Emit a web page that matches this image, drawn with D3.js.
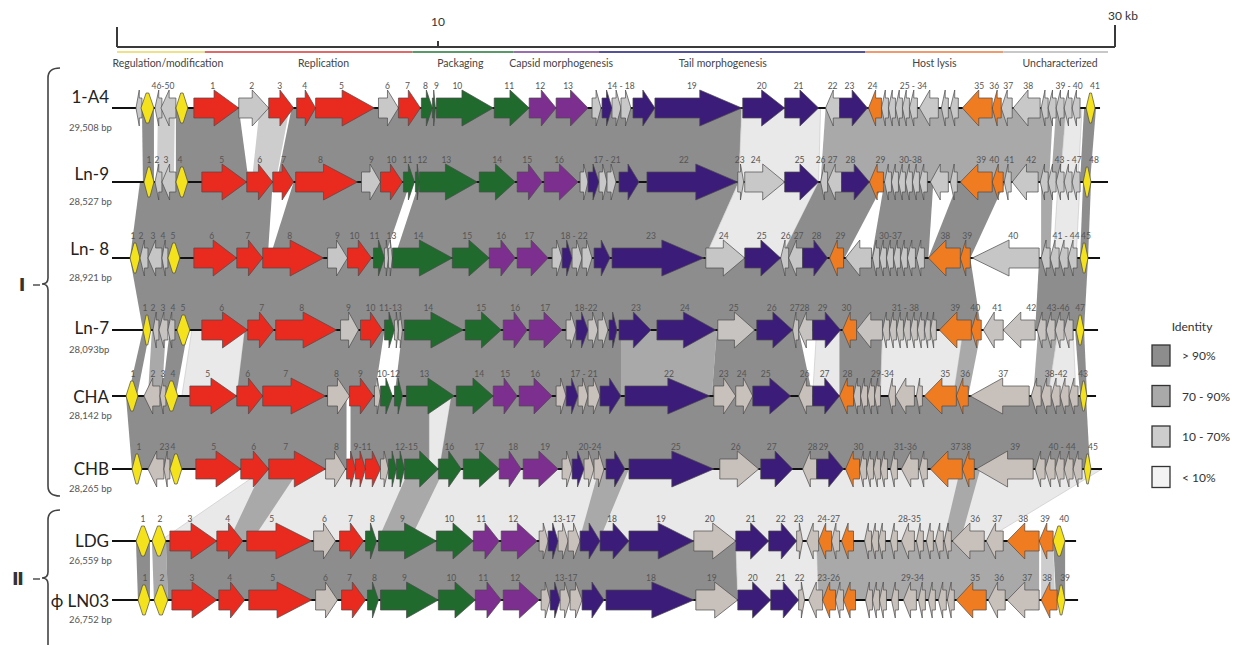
<!DOCTYPE html>
<html lang="en">
<head>
<meta charset="utf-8">
<title>Genome comparison</title>
<script src="https://cdn.jsdelivr.net/npm/d3@7/dist/d3.min.js"></script>
<style>
  body { margin: 0; background: #fff; }
  text { font-family: Lato, "Open Sans", "DejaVu Sans", sans-serif; }
</style>
</head>
<body>
<script>
// ---- data (positions in kb) ----
var genomeNames = ["1-A4", "Ln-9", "Ln- 8", "Ln-7", "CHA", "CHB", "LDG", "\u03D5 LN03"];
var genomeSizes = ["29,508 bp", "28,527  bp", "28,921 bp", "28,093bp", "28,142 bp", "28,265 bp", "26,559 bp", "26,752 bp"];
var genomeEnds = [29.55, 29.79, 29.55, 29.49, 29.43, 29.61, 28.83, 28.89];

var rulerTicks = [0, 10, 30];
var rulerLabels = ["", "10", "30 kb"];

var categoryNames = ["Regulation/modification", "Replication", "Packaging", "Capsid morphogenesis", "Tail morphogenesis", "Host lysis", "Uncharacterized"];
var categoryStart = [0, 2.64, 8.88, 11.91, 14.49, 22.50, 26.64];
var categoryEnd = [2.64, 8.88, 11.91, 14.49, 22.50, 26.64, 29.79];
var categoryLabelAt = [1.53, 6.21, 10.32, 13.35, 18.21, 24.57, 28.35];

var identityLabels = ["> 90%", "70 - 90%", "10 - 70%", "< 10%"];

// genes: [start, end, strand, category]
var genes1A4 = [
[0.57,0.75,-1,"u"],[0.72,1.11,0,"y"],[1.14,1.35,-1,"u"],[1.32,1.77,-1,"u"],[1.77,2.13,0,"y"],
[2.31,3.66,1,"r"],[3.66,4.56,1,"u"],[4.56,5.31,1,"r"],[5.40,5.97,1,"r"],[5.97,7.74,1,"r"],
[7.86,8.46,1,"u"],[8.46,9.12,1,"r"],[9.15,9.48,1,"g"],[9.48,9.57,1,"g"],[9.60,11.31,1,"g"],
[11.34,12.39,1,"g"],[12.39,13.20,1,"p"],[13.20,14.16,1,"p"],[14.28,14.55,1,"u"],[14.58,14.88,1,"b"],
[14.88,15.15,1,"u"],[15.15,15.45,1,"u"],[15.51,16.17,1,"b"],[16.17,18.78,1,"b"],[18.81,20.07,1,"b"],
[20.07,21.09,1,"b"],[21.30,21.72,-1,"u"],[21.72,22.56,1,"b"],[22.59,22.98,-1,"o"],
[22.98,23.19,-1,"u"],[23.19,23.40,-1,"u"],[23.40,23.61,-1,"u"],[23.61,23.82,-1,"u"],[23.82,24.06,-1,"u"],
[24.12,24.69,-1,"u"],[24.78,24.99,-1,"u"],[25.05,25.29,-1,"u"],
[25.41,26.31,-1,"o"],[26.31,26.58,-1,"o"],[26.58,26.91,-1,"u"],[26.94,27.75,-1,"u"],
[27.78,27.99,-1,"u"],[27.99,28.23,-1,"u"],[28.23,28.47,-1,"u"],[28.47,28.71,-1,"u"],[28.71,28.95,-1,"u"],
[29.13,29.40,0,"y"]
];
var genesLn9 = [
[0.81,1.11,0,"y"],[1.14,1.35,-1,"u"],[1.35,1.77,-1,"u"],[1.77,2.13,0,"y"],
[2.55,3.90,1,"r"],[3.90,4.68,1,"r"],[4.68,5.31,1,"r"],[5.37,7.23,1,"r"],[7.35,7.92,1,"u"],[7.92,8.58,1,"r"],
[8.61,8.94,1,"g"],[8.97,9.09,1,"g"],[9.09,10.83,1,"g"],[10.89,11.97,1,"g"],[12.03,12.78,1,"p"],[12.84,13.86,1,"p"],
[13.92,14.16,1,"u"],[14.16,14.49,1,"b"],[14.49,14.73,1,"u"],[14.73,15.00,1,"u"],[15.09,15.69,1,"b"],
[15.93,18.66,1,"b"],[18.66,18.84,1,"u"],[18.87,20.07,1,"u"],[20.07,21.09,1,"b"],[21.15,21.36,-1,"u"],[21.36,21.78,-1,"u"],
[21.78,22.62,1,"b"],[22.62,23.04,-1,"o"],
[23.07,23.28,-1,"u"],[23.28,23.49,-1,"u"],[23.49,23.70,-1,"u"],[23.70,23.91,-1,"u"],[23.91,24.12,-1,"u"],[24.12,24.36,-1,"u"],
[24.45,24.99,-1,"u"],[25.05,25.26,-1,"u"],
[25.35,26.31,-1,"o"],[26.31,26.64,-1,"o"],[26.67,26.88,-1,"u"],[26.91,27.69,-1,"u"],
[27.75,27.99,-1,"u"],[27.99,28.23,-1,"u"],[28.23,28.47,-1,"u"],[28.47,28.71,-1,"u"],[28.71,28.95,-1,"u"],
[29.04,29.28,0,"y"]
];
var genesLn8 = [
[0.39,0.69,0,"y"],[0.69,0.93,-1,"u"],[0.93,1.35,-1,"u"],[1.35,1.53,-1,"u"],[1.53,1.89,0,"y"],
[2.31,3.60,1,"r"],[3.60,4.38,1,"r"],[4.38,6.21,1,"r"],[6.33,6.93,1,"u"],[6.93,7.65,1,"r"],
[7.71,8.04,1,"g"],[8.04,8.16,1,"u"],[8.16,8.28,1,"u"],[8.28,10.08,1,"g"],[10.08,11.19,1,"g"],
[11.19,11.97,1,"p"],[12.03,12.96,1,"p"],
[13.08,13.38,1,"u"],[13.38,13.68,1,"b"],[13.68,13.98,1,"u"],[13.98,14.28,1,"u"],[14.34,14.82,1,"b"],
[14.88,17.64,1,"b"],[17.70,18.87,1,"u"],[18.87,19.95,1,"b"],[19.95,20.19,-1,"u"],[20.19,20.61,-1,"u"],
[20.61,21.36,1,"b"],[21.42,21.84,-1,"o"],[21.90,22.68,-1,"u"],
[22.71,22.92,-1,"u"],[22.92,23.13,-1,"u"],[23.13,23.34,-1,"u"],[23.34,23.55,-1,"u"],[23.55,23.76,-1,"u"],
[23.76,24.00,-1,"u"],[24.03,24.27,-1,"u"],
[24.39,25.35,-1,"o"],[25.35,25.65,-1,"o"],[25.71,27.72,-1,"u"],
[27.78,28.05,-1,"u"],[28.05,28.32,-1,"u"],[28.32,28.59,-1,"u"],[28.59,28.86,-1,"u"],
[28.95,29.19,0,"y"]
];
var genesLn7 = [
[0.78,1.02,0,"y"],[1.08,1.26,-1,"u"],[1.26,1.53,-1,"u"],[1.53,1.74,-1,"u"],[1.80,2.19,0,"y"],
[2.55,3.93,1,"r"],[3.93,4.71,1,"r"],[4.77,6.60,1,"r"],[6.72,7.26,1,"u"],[7.32,7.98,1,"r"],
[8.04,8.34,1,"g"],[8.34,8.46,1,"u"],[8.46,8.58,1,"u"],[8.64,10.41,1,"g"],[10.47,11.55,1,"g"],
[11.61,12.33,1,"p"],[12.39,13.38,1,"p"],
[13.50,13.80,1,"u"],[13.80,14.16,1,"b"],[14.16,14.46,1,"u"],[14.46,14.76,1,"u"],[14.79,15.03,1,"b"],
[15.09,16.05,1,"b"],[16.23,18.00,1,"b"],[18.06,19.17,1,"u"],[19.23,20.31,1,"b"],[20.31,20.49,-1,"u"],[20.49,20.91,-1,"u"],
[20.91,21.75,1,"b"],[21.81,22.23,-1,"o"],[22.23,23.01,-1,"u"],
[23.01,23.22,-1,"u"],[23.22,23.43,-1,"u"],[23.43,23.64,-1,"u"],[23.64,23.85,-1,"u"],[23.85,24.06,-1,"u"],
[24.06,24.27,-1,"u"],[24.27,24.45,-1,"u"],[24.45,24.63,-1,"u"],
[24.72,25.68,-1,"o"],[25.68,25.98,-1,"o"],[26.04,26.64,-1,"u"],[26.64,27.60,-1,"u"],
[27.66,27.93,-1,"u"],[27.93,28.20,-1,"u"],[28.20,28.47,-1,"u"],[28.47,28.74,-1,"u"],
[28.83,29.07,0,"y"]
];
var genesCHA = [
[0.27,0.63,0,"y"],[0.81,1.29,-1,"u"],[1.29,1.47,-1,"u"],[1.44,1.83,0,"y"],
[2.19,3.60,1,"r"],[3.60,4.38,1,"r"],[4.38,6.27,1,"r"],[6.33,6.99,1,"u"],[6.99,7.71,1,"r"],
[7.74,7.92,1,"u"],[7.92,8.28,1,"g"],[8.34,8.58,1,"g"],[8.70,10.14,1,"g"],[10.20,11.31,1,"g"],
[11.31,12.03,1,"p"],[12.09,13.08,1,"p"],
[13.20,13.50,1,"u"],[13.50,13.86,1,"b"],[13.86,14.16,1,"u"],[14.16,14.52,1,"u"],[14.52,15.15,1,"b"],
[15.27,17.82,1,"b"],[17.94,18.60,1,"u"],[18.60,19.11,1,"u"],[19.11,20.25,1,"b"],[20.49,20.91,-1,"u"],
[20.91,21.72,1,"b"],[21.72,22.14,-1,"o"],
[22.14,22.35,-1,"u"],[22.35,22.56,-1,"u"],[22.56,22.77,-1,"u"],[22.77,22.95,-1,"u"],[23.19,23.40,-1,"u"],
[23.40,23.97,-1,"u"],[24.03,24.21,-1,"u"],
[24.27,25.23,-1,"o"],[25.23,25.59,-1,"o"],[25.65,27.42,-1,"u"],
[27.48,27.78,-1,"u"],[27.78,28.08,-1,"u"],[28.08,28.35,-1,"u"],[28.35,28.62,-1,"u"],[28.62,28.89,-1,"u"],
[28.95,29.16,0,"y"]
];
var genesCHB = [
[0.45,0.75,0,"y"],[0.93,1.41,-1,"u"],[1.41,1.59,-1,"u"],[1.59,1.95,0,"y"],
[2.37,3.72,1,"r"],[3.72,4.56,1,"r"],[4.56,6.27,1,"r"],[6.27,6.87,1,"u"],[6.90,7.17,1,"r"],
[7.17,7.47,1,"r"],[7.47,7.92,1,"r"],[7.92,8.16,1,"u"],[8.16,8.40,1,"g"],[8.40,8.64,1,"g"],
[8.64,9.66,1,"g"],[9.66,10.35,1,"g"],[10.41,11.49,1,"g"],[11.49,12.15,1,"p"],[12.21,13.26,1,"p"],
[13.38,13.68,1,"u"],[13.68,14.04,1,"b"],[14.04,14.34,1,"u"],[14.34,14.64,1,"u"],[14.70,15.27,1,"b"],
[15.39,17.94,1,"b"],[18.12,19.29,1,"u"],[19.35,20.31,1,"b"],[20.61,21.03,-1,"u"],[21.03,21.84,1,"b"],
[21.90,22.32,-1,"o"],
[22.32,22.53,-1,"u"],[22.53,22.74,-1,"u"],[22.74,22.95,-1,"u"],[22.95,23.16,-1,"u"],[23.25,23.46,-1,"u"],
[23.58,24.09,-1,"u"],[24.12,24.36,-1,"u"],
[24.45,25.41,-1,"o"],[25.41,25.77,-1,"o"],[25.83,27.54,-1,"u"],
[27.60,27.90,-1,"u"],[27.90,28.20,-1,"u"],[28.20,28.47,-1,"u"],[28.47,28.74,-1,"u"],[28.74,29.01,-1,"u"],
[29.07,29.28,0,"y"]
];
var genesLDG = [
[0.57,0.99,0,"y"],[1.05,1.47,0,"y"],
[1.59,3.00,1,"r"],[3.00,3.78,1,"r"],[3.90,5.85,1,"r"],[5.91,6.57,1,"u"],[6.69,7.41,1,"r"],
[7.47,7.80,1,"g"],[7.86,9.60,1,"g"],[9.60,10.71,1,"g"],[10.71,11.49,1,"p"],[11.55,12.63,1,"p"],
[12.69,12.96,1,"u"],[12.96,13.26,1,"b"],[13.26,13.56,1,"u"],[13.56,13.92,1,"u"],[13.92,14.52,1,"b"],
[14.52,15.39,1,"b"],[15.39,17.34,1,"b"],[17.34,18.60,1,"u"],[18.60,19.59,1,"b"],[19.59,20.43,1,"b"],
[20.43,20.61,1,"u"],[20.73,21.09,-1,"u"],[21.09,21.48,-1,"o"],[21.48,21.72,-1,"u"],[21.78,22.14,-1,"o"],
[22.47,22.68,-1,"u"],[22.68,22.89,-1,"u"],[22.89,23.10,-1,"u"],[23.25,23.46,-1,"u"],[23.58,23.97,-1,"u"],
[24.03,24.24,-1,"u"],[24.33,24.54,-1,"u"],[24.60,24.84,-1,"u"],[24.87,25.08,-1,"u"],
[25.11,26.07,-1,"u"],[26.13,26.64,-1,"u"],[26.76,27.72,-1,"o"],[27.72,28.14,-1,"o"],
[28.14,28.50,0,"y"]
];
var genesLN03 = [
[0.63,0.99,0,"y"],[1.11,1.53,0,"y"],
[1.65,3.00,1,"r"],[3.06,3.84,1,"r"],[3.96,5.85,1,"r"],[5.97,6.63,1,"u"],[6.75,7.47,1,"r"],
[7.53,7.86,1,"g"],[7.92,9.66,1,"g"],[9.66,10.77,1,"g"],[10.77,11.55,1,"p"],[11.61,12.69,1,"p"],
[12.75,13.02,1,"u"],[13.02,13.32,1,"b"],[13.32,13.62,1,"u"],[13.62,13.98,1,"u"],[13.98,14.64,1,"b"],
[14.70,17.34,1,"b"],[17.40,18.66,1,"u"],[18.66,19.65,1,"b"],[19.65,20.49,1,"b"],
[20.49,20.67,1,"u"],[20.79,21.21,-1,"u"],[21.21,21.60,-1,"o"],[21.60,21.84,-1,"u"],[21.84,22.20,-1,"o"],
[22.50,22.71,-1,"u"],[22.71,22.92,-1,"u"],[22.92,23.13,-1,"u"],[23.28,23.49,-1,"u"],[23.64,24.03,-1,"u"],
[24.09,24.30,-1,"u"],[24.39,24.60,-1,"u"],[24.69,24.93,-1,"u"],[24.96,25.17,-1,"u"],
[25.23,26.13,-1,"o"],[26.19,26.70,-1,"u"],[26.76,27.72,-1,"u"],[27.78,28.26,-1,"o"],
[28.26,28.50,0,"y"]
];

// gene numbers: [position, text]
var labels1A4 = [[1.38,"46-50"],[2.88,"1"],[4.05,"2"],[4.89,"3"],[5.64,"4"],[6.75,"5"],[8.13,"6"],[8.73,"7"],[9.27,"8"],[9.60,"9"],[10.23,"10"],[11.79,"11"],[12.72,"12"],[13.56,"13"],[15.15,"14 - 18"],[17.28,"19"],[19.38,"20"],[20.49,"21"],[21.51,"22"],[22.02,"23"],[22.71,"24"],[23.94,"25 - 34"],[25.92,"35"],[26.37,"36"],[26.79,"37"],[27.39,"38"],[28.62,"39 - 40"],[29.40,"41"]];
var labelsLn9 = [[0.96,"1"],[1.20,"2"],[1.47,"3"],[1.89,"4"],[3.15,"5"],[4.29,"6"],[5.01,"7"],[6.12,"8"],[7.65,"9"],[8.25,"10"],[8.73,"11"],[9.18,"12"],[9.90,"13"],[11.43,"14"],[12.33,"15"],[13.29,"16"],[14.73,"17 - 21"],[17.04,"22"],[18.72,"23"],[19.20,"24"],[20.52,"25"],[21.15,"26"],[21.51,"27"],[22.05,"28"],[22.95,"29"],[23.85,"30-38"],[25.98,"39"],[26.37,"40"],[26.82,"41"],[27.48,"42"],[28.59,"43 - 47"],[29.37,"48"]];
var labelsLn8 = [[0.48,"1"],[0.72,"2"],[1.08,"3"],[1.38,"4"],[1.68,"5"],[2.85,"6"],[3.93,"7"],[5.19,"8"],[6.63,"9"],[7.14,"10"],[7.74,"11"],[8.25,"13"],[9.06,"14"],[10.53,"15"],[11.55,"16"],[12.39,"17"],[13.74,"18 - 22"],[16.05,"23"],[18.24,"24"],[19.38,"25"],[20.10,"26"],[20.49,"27"],[21.03,"28"],[21.75,"29"],[23.25,"30-37"],[24.90,"38"],[25.56,"39"],[26.94,"40"],[28.53,"41 - 44"],[29.13,"45"]];
var labelsLn7 = [[0.84,"1"],[1.08,"2"],[1.38,"3"],[1.68,"4"],[1.98,"5"],[3.15,"6"],[4.35,"7"],[5.55,"8"],[6.96,"9"],[7.62,"10"],[8.22,"11-13"],[9.36,"14"],[10.95,"15"],[11.97,"16"],[12.87,"17"],[14.10,"18-22"],[15.60,"23"],[17.07,"24"],[18.54,"25"],[19.68,"26"],[20.37,"27"],[20.67,"28"],[21.21,"29"],[21.93,"30"],[23.70,"31 - 38"],[25.20,"39"],[25.80,"40"],[26.46,"41"],[27.48,"42"],[28.29,"43-46"],[28.95,"47"]];
var labelsCHA = [[0.48,"1"],[1.08,"2"],[1.38,"3"],[1.68,"4"],[2.73,"5"],[3.93,"6"],[5.07,"7"],[6.60,"8"],[7.32,"9"],[8.16,"10-12"],[9.24,"13"],[10.89,"14"],[11.67,"15"],[12.57,"16"],[14.04,"17 - 21"],[16.59,"22"],[18.24,"23"],[18.78,"24"],[19.50,"25"],[20.67,"26"],[21.27,"27"],[21.96,"28"],[23.01,"29-34"],[24.90,"35"],[25.50,"36"],[26.64,"37"],[28.23,"38-42"],[29.04,"43"]];
var labelsCHB = [[0.66,"1"],[1.35,"2"],[1.50,"3"],[1.68,"4"],[2.91,"5"],[4.11,"6"],[5.07,"7"],[6.60,"8"],[7.38,"9-11"],[8.70,"12-15"],[9.99,"16"],[10.89,"17"],[11.91,"18"],[12.87,"19"],[14.22,"20-24"],[16.80,"25"],[18.60,"26"],[19.68,"27"],[20.91,"28"],[21.24,"29"],[22.29,"30"],[23.70,"31-36"],[25.20,"37"],[25.53,"38"],[27.00,"39"],[28.41,"40 - 44"],[29.34,"45"]];
var labelsLDG = [[0.78,"1"],[1.29,"2"],[2.19,"3"],[3.33,"4"],[4.65,"5"],[6.24,"6"],[7.02,"7"],[7.68,"8"],[8.58,"9"],[9.99,"10"],[10.95,"11"],[11.91,"12"],[13.44,"13-17"],[14.88,"18"],[16.35,"19"],[17.82,"20"],[19.05,"21"],[19.95,"22"],[20.49,"23"],[21.39,"24-27"],[23.82,"28-35"],[25.80,"36"],[26.46,"37"],[27.24,"38"],[27.90,"39"],[28.47,"40"]];
var labelsLN03 = [[0.84,"1"],[1.35,"2"],[2.25,"3"],[3.39,"4"],[4.68,"5"],[6.27,"6"],[6.99,"7"],[7.74,"8"],[8.64,"9"],[10.05,"10"],[11.01,"11"],[11.97,"12"],[13.50,"13-17"],[16.05,"18"],[17.88,"19"],[19.11,"20"],[19.95,"21"],[20.52,"22"],[21.39,"23-26"],[23.91,"29-34"],[25.80,"35"],[26.52,"36"],[27.36,"37"],[27.96,"38"],[28.50,"39"]];

// comparisons between neighbouring genomes: [topStart, topEnd, bottomStart, bottomEnd, identity class]
var bands1A4Ln9 = [
[0.75,1.11,0.78,1.11,0],[1.23,1.74,1.20,1.71,2],[1.77,3.66,1.77,3.96,0],[4.29,5.19,4.05,4.77,2],
[5.25,18.78,4.80,18.69,0],[18.78,21.15,18.69,21.09,3],[21.30,28.14,21.15,28.02,1],
[28.23,28.53,28.08,28.35,1],[28.53,29.01,28.35,28.89,3],[29.07,29.43,28.95,29.25,0]
];
var bandsLn9Ln8 = [
[0.69,4.68,0.39,4.53,0],[5.31,8.82,4.59,8.04,0],[9.09,18.69,8.34,17.67,0],[18.69,21.09,17.67,19.95,3],
[21.09,23.07,19.95,21.87,0],[23.07,24.54,22.68,24.39,0],[25.29,26.70,24.39,25.65,0],
[27.78,28.14,27.78,28.05,1],[28.29,28.95,28.14,28.83,3],[29.04,29.28,28.95,29.19,0]
];
var bandsLn8Ln7 = [
[0.39,25.65,0.78,25.98,0],[27.72,29.19,27.60,29.07,0]
];
var bandsLn7CHA = [
[0.78,0.99,0.33,0.60,0],[1.05,1.47,0.93,1.35,1],[1.59,2.13,1.35,1.77,0],[2.25,3.84,1.95,3.60,3],
[3.84,8.04,3.60,7.74,0],[8.58,15.15,8.34,15.15,0],[15.15,18.03,15.15,17.88,1],[18.03,20.49,17.88,20.91,0],
[21.03,21.72,20.91,21.72,3],[21.72,23.01,21.72,22.95,0],[23.01,25.44,22.95,25.14,3],[25.44,25.98,25.14,25.59,1],
[27.69,28.29,27.54,27.99,1],[28.29,28.74,27.99,28.83,3],[28.80,29.07,28.95,29.16,0]
];
var bandsCHACHB = [
[0.27,6.90,0.45,6.90,0],[7.02,9.39,7.02,9.39,0],[9.39,10.05,9.39,9.69,3],[10.05,29.13,9.69,29.25,0]
];
var bandsCHBLDG = [
[4.44,29.61,1.29,26.04,3],[4.38,5.49,3.36,4.05,1],[8.79,9.84,7.83,8.79,1],[14.49,15.39,13.89,14.49,1],
[25.35,25.95,24.84,25.35,1]
];
var bandsLDGLN03 = [
[0.57,0.99,0.63,0.99,0],[1.05,1.47,1.11,1.53,1],[1.47,18.60,1.53,18.66,0],[18.60,21.03,18.66,21.09,3],
[21.03,27.72,21.09,27.72,1],[27.78,28.14,27.78,28.20,2],[28.14,28.50,28.23,28.50,0]
];

var allGenes = [genes1A4, genesLn9, genesLn8, genesLn7, genesCHA, genesCHB, genesLDG, genesLN03];
var allLabels = [labels1A4, labelsLn9, labelsLn8, labelsLn7, labelsCHA, labelsCHB, labelsLDG, labelsLN03];
var allBands = [bands1A4Ln9, bandsLn9Ln8, bandsLn8Ln7, bandsLn7CHA, bandsCHACHB, bandsCHBLDG, bandsLDGLN03];

// ---- layout & style ----
var width = 1247, height = 645;
var rowY = [108, 182, 258, 330, 396, 469, 541, 600];
var nameDy = [-5, -2, -3, 4, 7, 6, 6, 7];
var geneColor = { y: "#f3e21c", r: "#e92a1f", g: "#206a2e", p: "#7d2f8f", b: "#3c1c79", o: "#f07c22" };
var greyTone = ["#c8c8c8", "#c8c8c8", "#c6c6c6", "#c6c3c0", "#c8c0ba", "#c8c0ba", "#c8c0ba", "#c8c0ba"];
var identityColor = ["#8d8d8d", "#a9a9a9", "#cdcdcd", "#e9e9e9"];
var categoryColor = ["#efe08a", "#e06a6a", "#5a9a68", "#9a6fb0", "#54539a", "#f09a70", "#c8c8c8"];

var x = d3.scaleLinear().domain([0, 30]).range([117, 1115]);
// the printed ruler is not quite linear; its own scale follows the picture
var rulerX = d3.scaleLinear().domain([0, 10, 30]).range([117, 438, 1115]);

var svg = d3.select("body").append("svg")
  .attr("width", width).attr("height", height);

// Ruler
svg.append("line")
  .attr("x1", rulerX(0)).attr("x2", rulerX(30))
  .attr("y1", 47).attr("y2", 47)
  .style("stroke", "#3a3a3a").style("stroke-width", 2);
var tickLen = [20, 6, 22];
svg.selectAll("line.tick").data(rulerTicks).enter().append("line")
  .attr("class", "tick")
  .attr("x1", function(d){ return rulerX(d); }).attr("x2", function(d){ return rulerX(d); })
  .attr("y1", function(d, i){ return 47 - tickLen[i]; }).attr("y2", 47)
  .style("stroke", "#3a3a3a").style("stroke-width", 2);
svg.selectAll("text.tick").data(rulerTicks).enter().append("text")
  .attr("class", "tick")
  .attr("x", function(d, i){ return rulerX(d) + (i == 2 ? 8 : 0); })
  .attr("y", function(d, i){ return i == 2 ? 20 : 26; })
  .attr("text-anchor", "middle")
  .style("font-size", "12px").style("fill", "#333")
  .text(function(d, i){ return rulerLabels[i]; });

// Functional categories
svg.selectAll("line.cat").data(categoryNames).enter().append("line")
  .attr("class", "cat")
  .attr("x1", function(d, i){ return x(categoryStart[i]); })
  .attr("x2", function(d, i){ return x(categoryEnd[i]); })
  .attr("y1", 52).attr("y2", 52)
  .style("stroke", function(d, i){ return categoryColor[i]; })
  .style("stroke-width", 2);
svg.selectAll("text.cat").data(categoryNames).enter().append("text")
  .attr("class", "cat")
  .attr("x", function(d, i){ return x(categoryLabelAt[i]); })
  .attr("y", 67)
  .attr("text-anchor", "middle")
  .style("font-size", "10.5px").style("fill", "#444")
  .text(function(d){ return d; });

// Identity bands (behind everything on the tracks)
var bandLayer = svg.append("g");
allBands.forEach(function(bands, i){
  var yt = rowY[i], yb = rowY[i + 1];
  bandLayer.selectAll(null).data(bands).enter().append("path")
    .attr("d", function(b){
      return "M" + x(b[0]) + "," + yt + "L" + x(b[1]) + "," + yt +
             "L" + x(b[3]) + "," + yb + "L" + x(b[2]) + "," + yb + "Z";
    })
    .style("fill", function(b){ return identityColor[b[4]]; })
    .style("stroke", function(b){ return b[4] == 3 ? "#c4c4c4" : "none"; })
    .style("stroke-width", 0.6);
});

// Arrow shape for one gene
function genePath(g, y) {
  var x0 = x(g[0]), x1 = x(g[1]), w = x1 - x0, bh = 10, hh = 18;
  if (g[2] === 0) {
    var c = w * 0.4, yh = 15;
    return "M" + x0 + "," + y + "L" + (x0 + c) + "," + (y - yh) + "L" + (x1 - c) + "," + (y - yh) +
           "L" + x1 + "," + y + "L" + (x1 - c) + "," + (y + yh) + "L" + (x0 + c) + "," + (y + yh) + "Z";
  }
  var hl = Math.min(w * 0.55, 42);
  if (g[2] === 1) {
    return "M" + x0 + "," + (y - bh) + "L" + (x1 - hl) + "," + (y - bh) + "L" + (x1 - hl) + "," + (y - hh) +
           "L" + x1 + "," + y + "L" + (x1 - hl) + "," + (y + hh) + "L" + (x1 - hl) + "," + (y + bh) +
           "L" + x0 + "," + (y + bh) + "Z";
  }
  return "M" + x1 + "," + (y - bh) + "L" + (x0 + hl) + "," + (y - bh) + "L" + (x0 + hl) + "," + (y - hh) +
         "L" + x0 + "," + y + "L" + (x0 + hl) + "," + (y + hh) + "L" + (x0 + hl) + "," + (y + bh) +
         "L" + x1 + "," + (y + bh) + "Z";
}

// Tracks
genomeNames.forEach(function(name, i){
  var y = rowY[i];
  var g = svg.append("g");

  g.append("line")
    .attr("x1", x(-0.15)).attr("x2", x(genomeEnds[i]))
    .attr("y1", y).attr("y2", y)
    .style("stroke", "#111").style("stroke-width", 2);

  g.selectAll("path").data(allGenes[i]).enter().append("path")
    .attr("d", function(d){ return genePath(d, y); })
    .style("fill", function(d){ return d[3] == "u" ? greyTone[i] : geneColor[d[3]]; })
    .style("stroke", "#4a4a4a").style("stroke-width", 0.7)
    .style("stroke-linejoin", "round");

  g.selectAll("text.num").data(allLabels[i]).enter().append("text")
    .attr("class", "num")
    .attr("x", function(d){ return x(d[0]); })
    .attr("y", y - 19)
    .attr("text-anchor", "middle")
    .style("font-size", "8.5px").style("fill", "#555")
    .text(function(d){ return d[1]; });

  g.append("text")
    .attr("x", 109).attr("y", y + nameDy[i])
    .attr("text-anchor", "end")
    .style("font-size", "17px").style("fill", "#222")
    .text(name);

  g.append("text")
    .attr("x", 69).attr("y", y + 23)
    .style("font-size", "9.5px").style("fill", "#555")
    .text(genomeSizes[i]);
});

// Group brackets
svg.append("path")
  .attr("d", "M60,68 Q48,68 48,78 L48,278 Q48,284 42,284 Q48,284 48,290 L48,486 Q48,496 60,496")
  .style("fill", "none").style("stroke", "#444").style("stroke-width", 1.6);
svg.append("path")
  .attr("d", "M60,510 Q48,510 48,520 L48,572 Q48,578 42,578 Q48,578 48,584 L48,645")
  .style("fill", "none").style("stroke", "#444").style("stroke-width", 1.6);
svg.append("line").attr("x1", 33).attr("x2", 40).attr("y1", 285).attr("y2", 285)
  .style("stroke", "#444").style("stroke-width", 1.4);
svg.append("line").attr("x1", 33).attr("x2", 40).attr("y1", 579).attr("y2", 579)
  .style("stroke", "#444").style("stroke-width", 1.4);
svg.append("text").attr("x", 22).attr("y", 291).attr("text-anchor", "middle")
  .style("font-size", "18px").style("font-weight", "bold").style("fill", "#333").text("\u2160");
svg.append("text").attr("x", 18).attr("y", 585).attr("text-anchor", "middle")
  .style("font-size", "18px").style("font-weight", "bold").style("fill", "#333").text("\u2161");

// Identity legend
svg.append("text").attr("x", 1192).attr("y", 331).attr("text-anchor", "middle")
  .style("font-size", "12px").style("fill", "#333").text("Identity");
var leg = svg.selectAll("g.leg").data(identityLabels).enter().append("g")
  .attr("class", "leg")
  .attr("transform", function(d, i){ return "translate(1152," + (345 + i * 40.5) + ")"; });
leg.append("rect").attr("width", 18).attr("height", 21)
  .style("fill", function(d, i){ return i == 3 ? "#f3f3f3" : identityColor[i]; })
  .style("stroke", "#333").style("stroke-width", 1.3);
leg.append("text").attr("x", 30).attr("y", 15)
  .style("font-size", "12px").style("fill", "#333")
  .text(function(d){ return d; });
</script>
</body>
</html>
